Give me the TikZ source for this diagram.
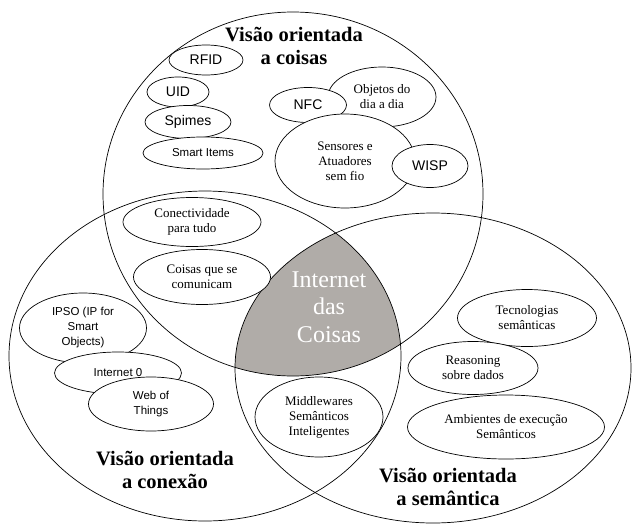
\documentclass[tikz,border=0pt]{standalone}
\usepackage{fontspec}
\setmainfont{Liberation Serif}
\setsansfont{Liberation Sans}
\usetikzlibrary{shapes.geometric}
\definecolor{iotgray}{RGB}{176,172,168}
\newcommand{\coisasellipse}{(293,194) ellipse [x radius=190, y radius=182]}
\newcommand{\conexaoellipse}{(205,356) ellipse [x radius=196, y radius=165]}
\newcommand{\semanticaellipse}{(433,368) ellipse [x radius=198, y radius=155]}
\begin{document}
\begin{tikzpicture}[x=1pt, y=-1pt, line width=0.7pt,
  item/.style={ellipse, draw, fill=white, inner sep=0pt, align=center,
    font=\fontsize{13}{15}\selectfont},
  sansitem/.style={item, font=\sffamily\fontsize{14}{16}\selectfont},
  smallsans/.style={item, font=\sffamily\fontsize{11.5}{15}\selectfont},
  heading/.style={align=center, font=\fontsize{20.5}{22.5}\bfseries\selectfont}]
\useasboundingbox (0,0) rectangle (640,525);
% the shaded intersection
\begin{scope}
\clip \coisasellipse;
\clip \conexaoellipse;
\fill[iotgray] \semanticaellipse;
\end{scope}
\draw \coisasellipse;
\draw \conexaoellipse;
\draw \semanticaellipse;
\node (iot)[align=center, text=white, font=\fontsize{24}{27.5}\selectfont] at (329,307) {Internet\\das\\Coisas};
% things oriented
\node (hcoisas)[heading] at (294,46) {Visão orientada\\a coisas};
\node (rfid)[sansitem, minimum width=74pt, minimum height=30pt] at (206,60) {RFID};
\node (uid)[sansitem, minimum width=62pt, minimum height=30pt] at (178,92) {UID};
\node (spimes)[sansitem, minimum width=86pt, minimum height=33pt] at (188,122) {Spimes};
\node (smart)[smallsans, minimum width=120pt, minimum height=32pt] at (203,153) {Smart Items};
\node (objetos)[item, minimum width=108pt, minimum height=60pt] at (382,97) {Objetos do\\dia a dia};
\node (nfc)[sansitem, minimum width=77pt, minimum height=35pt] at (308,105) {NFC};
\node (sensores)[item, minimum width=140pt, minimum height=94pt] at (345,161) {Sensores e\\Atuadores\\sem fio};
\node (wisp)[sansitem, minimum width=76pt, minimum height=43pt] at (430,166) {WISP};
% connection oriented
\node (conect)[item, minimum width=138pt, minimum height=49pt] at (192,222) {Conectividade\\para tudo};
\node (comunic)[item, minimum width=137pt, minimum height=55pt] at (202,277) {Coisas que se\\comunicam};
\node (ipso)[smallsans, minimum width=127pt, minimum height=70pt] at (83,328) {IPSO (IP for\\Smart\\Objects)};
\node (inet0)[smallsans, minimum width=127pt, minimum height=42pt] at (118,373) {Internet 0};
\node (web)[smallsans, minimum width=125pt, minimum height=54pt] at (151,404) {Web of\\Things};
\node (hconexao)[heading] at (165,470) {Visão orientada\\a conexão};
% semantic oriented
\node (middle)[item, minimum width=128pt, minimum height=80pt] at (319,417) {Middlewares\\Semânticos\\Inteligentes};
\node (tecno)[item, minimum width=139pt, minimum height=57pt] at (527,318) {Tecnologias\\semânticas};
\node (reason)[item, minimum width=130pt, minimum height=53pt] at (473,368) {Reasoning\\sobre dados};
\node (ambient)[item, minimum width=197pt, minimum height=64pt] at (506,427) {Ambientes de execução\\Semânticos};
\node (hsemantica)[heading] at (448,487) {Visão orientada\\a semântica};
\end{tikzpicture}
\end{document}
